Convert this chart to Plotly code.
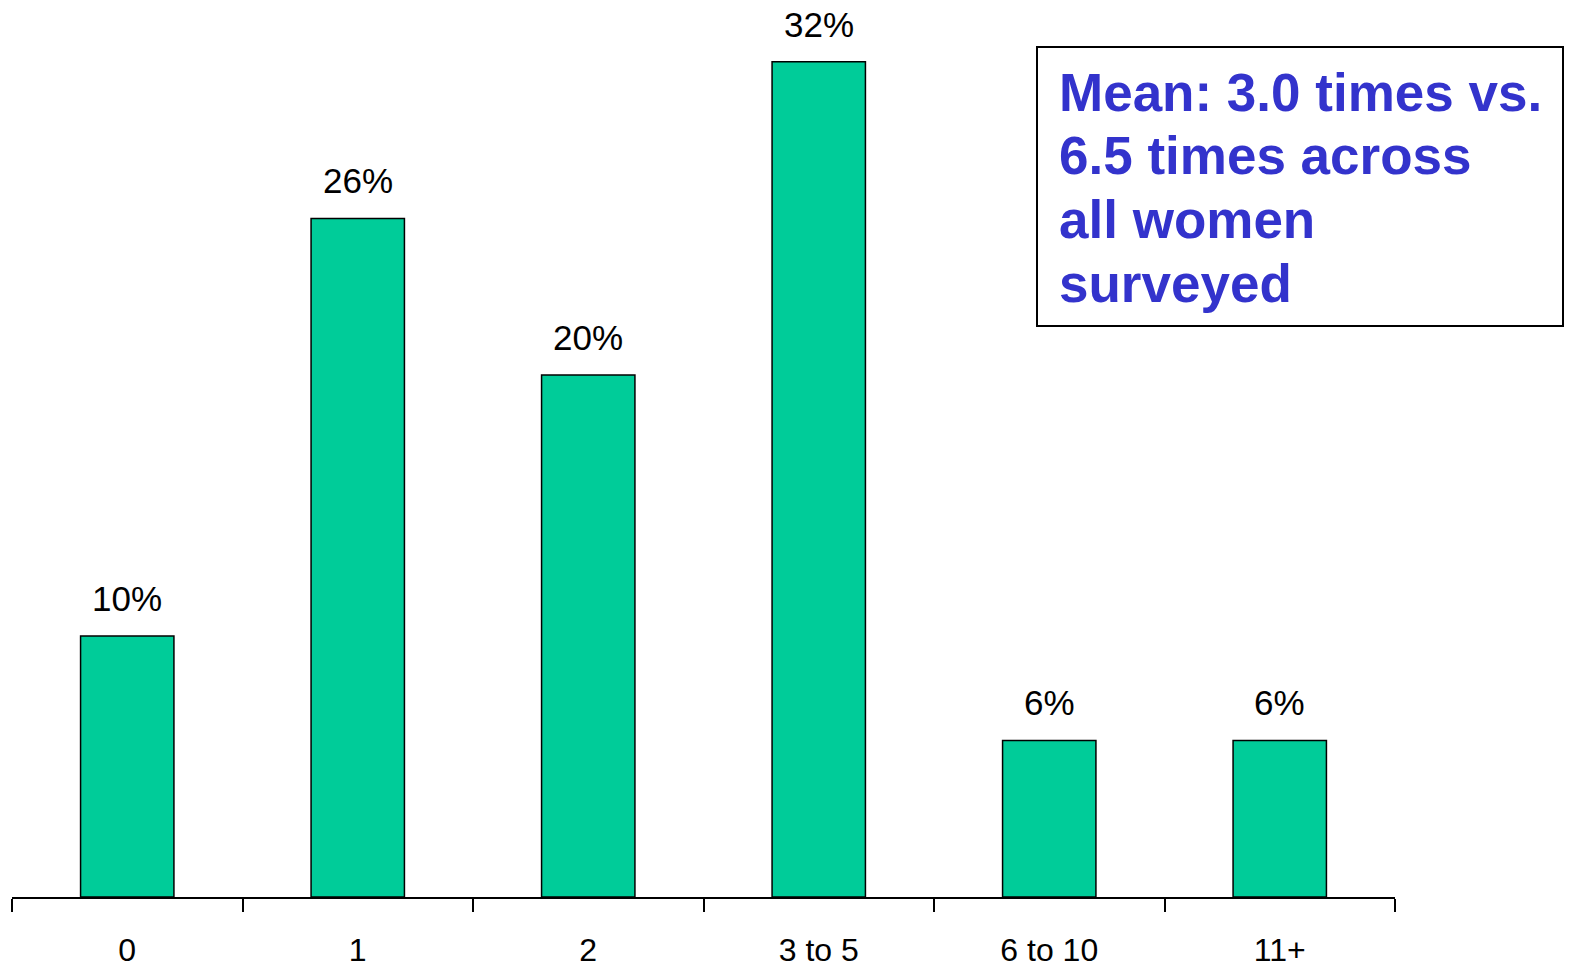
import plotly.graph_objects as go

categories = ["0", "1", "2", "3 to 5", "6 to 10", "11+"]
values = [10, 26, 20, 32, 6, 6]
value_labels = ["10%", "26%", "20%", "32%", "6%", "6%"]
box_lines = ["Mean: 3.0 times vs.", "6.5 times across", "all women", "surveyed"]

W, H = 1571, 968
L, R, T, B = 12, 1571 - 1395, 0, 968 - 897
plot_h = H - T - B
PX_PER_PCT = 26.1

fig = go.Figure()
fig.add_trace(go.Bar(
    x=categories, y=values,
    marker=dict(color="#00CC99", line=dict(color="black", width=1.5)),
    width=0.405,
    hoverinfo="skip",
))

for c, v, t in zip(categories, values, value_labels):
    fig.add_annotation(x=c, y=v, text=t, showarrow=False, xref="x", yref="y",
                       yanchor="bottom", yshift=16,
                       font=dict(family="Liberation Sans, Arial", size=35, color="black"))

# Info box
def py(pix):
    return (H - B - pix) / plot_h

def px(pix):
    return (pix - L) / (W - L - R)

fig.add_shape(type="rect", xref="paper", yref="paper",
              x0=px(1037), x1=px(1563), y0=py(326), y1=py(47),
              line=dict(color="black", width=2), fillcolor="white")

baselines = [112, 175, 239, 303]
for line, b in zip(box_lines, baselines):
    fig.add_annotation(xref="paper", yref="paper", x=px(1057), y=py(b),
                       xanchor="left", yanchor="bottom", yshift=-12,
                       text="<b>%s</b>" % line, showarrow=False, align="left",
                       font=dict(family="Liberation Sans, Arial", size=53, color="#3333CC"))

fig.update_layout(
    width=W, height=H,
    margin=dict(l=L, r=R, t=T, b=B, pad=0, autoexpand=False),
    paper_bgcolor="white", plot_bgcolor="white",
    showlegend=False,
    bargap=0.6,
)
fig.update_xaxes(
    showline=True, linecolor="black", linewidth=1.5,
    ticks="outside", tickson="boundaries", ticklen=13, tickwidth=1.5, tickcolor="black",
    tickfont=dict(family="Liberation Sans, Arial", size=32, color="black"),
    ticklabelstandoff=24, automargin=False,
    showgrid=False, zeroline=False,
)
fig.update_yaxes(range=[0, plot_h / PX_PER_PCT], visible=False, showgrid=False, zeroline=False,
                 automargin=False)

fig.write_html("out.html")
